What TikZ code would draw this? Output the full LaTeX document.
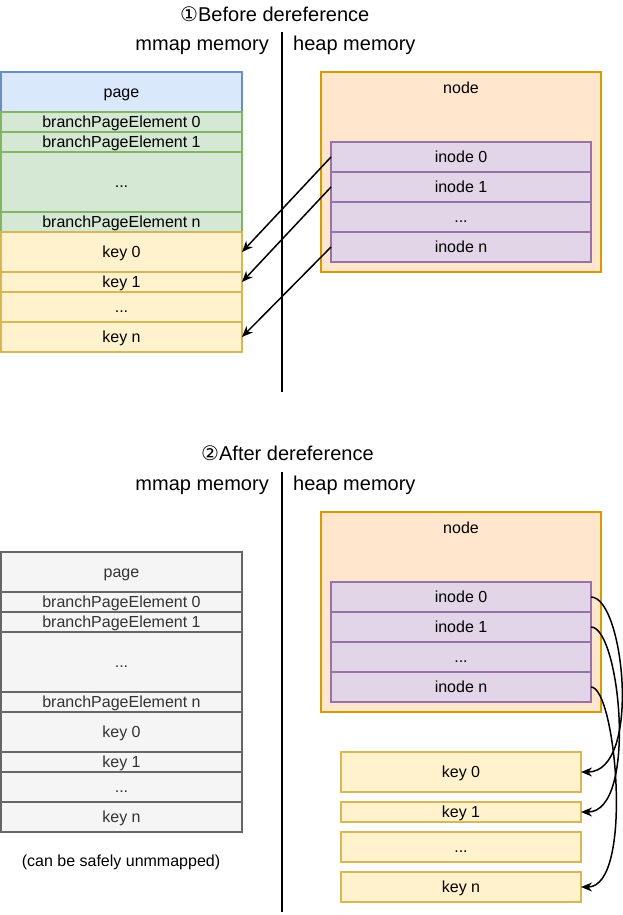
\documentclass[tikz,border=0pt]{standalone}
\usepackage{fontspec}
\setmainfont{Liberation Sans}
\newfontfamily\dejavu{DejaVu Sans}
\usetikzlibrary{arrows.meta}
\definecolor{blueF}{HTML}{DAE8FC}\definecolor{blueD}{HTML}{6C8EBF}
\definecolor{greenF}{HTML}{D5E8D4}\definecolor{greenD}{HTML}{82B366}
\definecolor{yelF}{HTML}{FFF2CC}\definecolor{yelD}{HTML}{D6B656}
\definecolor{orF}{HTML}{FFE6CC}\definecolor{orD}{HTML}{D79B00}
\definecolor{purF}{HTML}{E1D5E7}\definecolor{purD}{HTML}{9673A6}
\definecolor{grayF}{HTML}{F5F5F5}\definecolor{grayD}{HTML}{666666}\definecolor{grayT}{HTML}{333333}
\tikzset{
  body/.style={inner sep=0pt, outer sep=0pt, font=\fontsize{16}{16}\selectfont, text height=11.5pt, text depth=0pt},
  cell/.style={body, line width=1.4pt, anchor=north west, text=black},
  bluebox/.style={cell, draw=blueD, fill=blueF},
  greenbox/.style={cell, draw=greenD, fill=greenF},
  yelbox/.style={cell, draw=yelD, fill=yelF},
  orbox/.style={cell, draw=orD, fill=orF},
  purbox/.style={cell, draw=purD, fill=purF},
  graybox/.style={cell, draw=grayD, fill=grayF, text=grayT},
  lbl/.style={inner sep=0pt, font=\fontsize{20}{20}\selectfont, text height=14.4pt, text depth=0pt},
  divider/.style={line width=1.7pt},
  ptr/.style={line width=1.5pt, -{Stealth[length=11pt,width=9pt,inset=3.5pt]}},
}
\begin{document}
\begin{tikzpicture}[x=1pt,y=-1pt]
\useasboundingbox (0,0) rectangle (622,915);
% ---------- top ----------
\node[lbl, anchor=west] (t1) at (180,14) {{\dejavu ①}Before dereference};
\node[lbl, anchor=east] (mm1) at (269,43) {mmap memory};
\node[lbl, anchor=west] (hm1) at (293,43) {heap memory};
\coordinate (v1a) at (282,32); \coordinate (v1b) at (282,392);
\draw[divider] (v1a) -- (v1b);

\node[bluebox, minimum width=241pt, minimum height=40pt] (pg1) at (1,72) {page};
\node[greenbox, minimum width=241pt, minimum height=20pt] (b10) at (1,112) {branchPageElement 0};
\node[greenbox, minimum width=241pt, minimum height=20pt] (b11) at (1,132) {branchPageElement 1};
\node[greenbox, minimum width=241pt, minimum height=60pt] (b1d) at (1,152) {...};
\node[greenbox, minimum width=241pt, minimum height=20pt] (b1n) at (1,212) {branchPageElement n};
\node[yelbox, minimum width=241pt, minimum height=40pt] (k10) at (1,232) {key 0};
\node[yelbox, minimum width=241pt, minimum height=20pt] (k11) at (1,272) {key 1};
\node[yelbox, minimum width=241pt, minimum height=30pt] (k1d) at (1,292) {...};
\node[yelbox, minimum width=241pt, minimum height=30pt] (k1n) at (1,322) {key n};

\node[orbox, minimum width=280pt, minimum height=200pt] (nd1) at (321,72) {};
\node[body] (nd1l) at (461,88) {node};
\node[purbox, minimum width=260pt, minimum height=30pt] (i10) at (331,142) {inode 0};
\node[purbox, minimum width=260pt, minimum height=30pt] (i11) at (331,172) {inode 1};
\node[purbox, minimum width=260pt, minimum height=30pt] (i1d) at (331,202) {...};
\node[purbox, minimum width=260pt, minimum height=30pt] (i1n) at (331,232) {inode n};

\draw[ptr] (i10.west) -- (k10.east);
\draw[ptr] (i11.west) -- (k11.east);
\draw[ptr] (i1n.west) -- (k1n.east);

% ---------- bottom ----------
\node[lbl, anchor=west] (t2) at (201,453) {{\dejavu ②}After dereference};
\node[lbl, anchor=east] (mm2) at (269,483) {mmap memory};
\node[lbl, anchor=west] (hm2) at (293,483) {heap memory};
\coordinate (v2a) at (282,472); \coordinate (v2b) at (282,912);
\draw[divider] (v2a) -- (v2b);

\node[graybox, minimum width=241pt, minimum height=40pt] (pg2) at (1,552) {page};
\node[graybox, minimum width=241pt, minimum height=20pt] (b20) at (1,592) {branchPageElement 0};
\node[graybox, minimum width=241pt, minimum height=20pt] (b21) at (1,612) {branchPageElement 1};
\node[graybox, minimum width=241pt, minimum height=60pt] (b2d) at (1,632) {...};
\node[graybox, minimum width=241pt, minimum height=20pt] (b2n) at (1,692) {branchPageElement n};
\node[graybox, minimum width=241pt, minimum height=40pt] (k20) at (1,712) {key 0};
\node[graybox, minimum width=241pt, minimum height=20pt] (k21) at (1,752) {key 1};
\node[graybox, minimum width=241pt, minimum height=30pt] (k2d) at (1,772) {...};
\node[graybox, minimum width=241pt, minimum height=30pt] (k2n) at (1,802) {key n};
\node[body] (note) at (121,861) {(can be safely unmmapped)};

\node[orbox, minimum width=280pt, minimum height=200pt] (nd2) at (321,512) {};
\node[body] (nd2l) at (461,528) {node};
\node[purbox, minimum width=260pt, minimum height=30pt] (i20) at (331,582) {inode 0};
\node[purbox, minimum width=260pt, minimum height=30pt] (i21) at (331,612) {inode 1};
\node[purbox, minimum width=260pt, minimum height=30pt] (i2d) at (331,642) {...};
\node[purbox, minimum width=260pt, minimum height=30pt] (i2n) at (331,672) {inode n};

\node[yelbox, minimum width=240pt, minimum height=40pt] (k30) at (341,752) {key 0};
\node[yelbox, minimum width=240pt, minimum height=20pt] (k31) at (341,802) {key 1};
\node[yelbox, minimum width=240pt, minimum height=30pt] (k3d) at (341,832) {...};
\node[yelbox, minimum width=240pt, minimum height=30pt] (k3n) at (341,872) {key n};

\draw[ptr] (i20.east) .. controls (624,597) and (642,772) .. (k30.east);
\draw[ptr] (i21.east) .. controls (620,627) and (638,812) .. (k31.east);
\draw[ptr] (i2n.east) .. controls (616,687) and (634,887) .. (k3n.east);
\end{tikzpicture}
\end{document}
